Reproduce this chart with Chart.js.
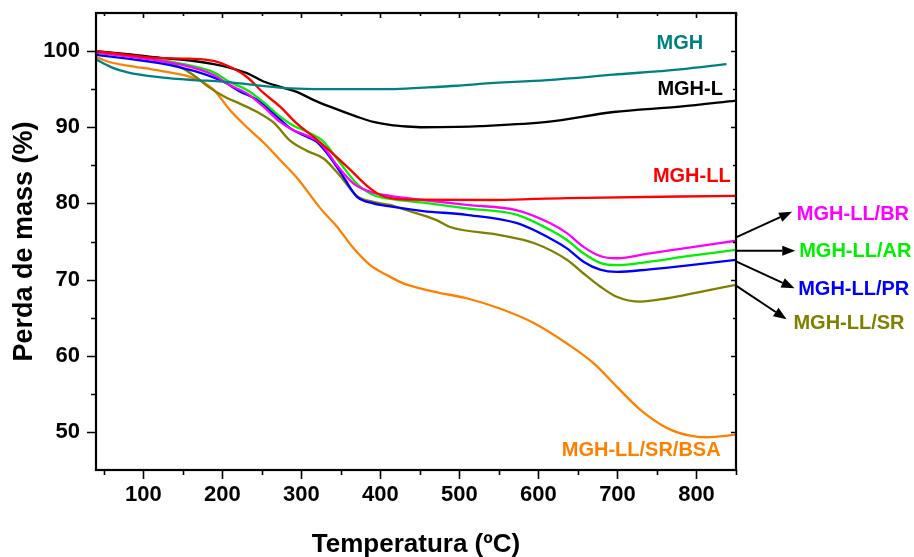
<!DOCTYPE html>
<html>
<head>
<meta charset="utf-8">
<script src="https://cdn.jsdelivr.net/npm/chart.js@4/dist/chart.umd.min.js"></script>
<style>
  html, body { margin: 0; padding: 0; background: #ffffff; }
  #wrap { width: 914px; height: 557px; }
</style>
</head>
<body>
<div id="wrap"><canvas id="c" width="914" height="557"></canvas></div>
<script>
// ---- Data (temperature in ºC, mass in %) ----
const seriesNames = ['MGH', 'MGH-L', 'MGH-LL', 'MGH-LL/BR', 'MGH-LL/AR', 'MGH-LL/PR', 'MGH-LL/SR', 'MGH-LL/SR/BSA'];

const tempMGH = [40, 59, 80, 122, 164, 200, 244, 286, 328, 374, 412, 454, 497, 526, 611, 695, 779, 838];
const massMGH = [98.9, 97.9, 97.2, 96.55, 96.2, 96.0, 95.5, 95.1, 95.0, 95.0, 95.0, 95.2, 95.45, 95.7, 96.2, 96.9, 97.6, 98.3];

const tempMGHL = [40, 80, 122, 164, 189, 210, 231, 252, 273, 294, 315, 336, 370, 391, 412, 433, 454, 497, 526, 611, 695, 779, 850];
const massMGHL = [100.0, 99.6, 99.1, 98.7, 98.3, 97.8, 97.1, 96.0, 95.3, 94.65, 93.6, 92.7, 91.4, 90.7, 90.3, 90.1, 90.0, 90.05, 90.15, 90.7, 92.0, 92.7, 93.5];

const tempMGHLL = [40, 80, 117, 159, 189, 210, 231, 252, 273, 294, 317, 338, 360, 383, 400, 433, 539, 636, 850];
const massMGHLL = [100.0, 99.5, 99.1, 99.0, 98.7, 97.9, 96.6, 94.5, 92.7, 90.5, 88.6, 86.7, 84.6, 82.3, 81.1, 80.5, 80.45, 80.7, 81.0];

const tempBR = [40, 80, 122, 164, 189, 210, 231, 252, 273, 290, 307, 324, 345, 366, 391, 412, 454, 509, 573, 615, 636, 657, 678, 699, 741, 784, 850];
const massBR = [99.8, 99.3, 98.7, 97.8, 96.85, 95.5, 94.45, 92.7, 90.7, 89.6, 88.9, 87.9, 85.0, 82.6, 81.4, 81.0, 80.45, 79.8, 79.1, 77.4, 76.1, 74.3, 73.1, 72.8, 73.45, 74.1, 75.1];

const tempAR = [40, 80, 122, 164, 189, 210, 231, 252, 273, 290, 307, 328, 349, 370, 391, 412, 454, 509, 573, 615, 636, 657, 678, 699, 741, 784, 850];
const massAR = [99.8, 99.3, 98.8, 98.0, 97.2, 95.9, 94.9, 93.3, 91.4, 90.2, 89.4, 88.1, 85.3, 82.6, 81.1, 80.6, 80.1, 79.35, 78.5, 76.5, 75.2, 73.45, 72.2, 71.9, 72.35, 73.0, 73.9];

const tempPR = [40, 80, 122, 164, 201, 222, 244, 265, 286, 307, 319, 336, 353, 370, 391, 412, 454, 509, 573, 615, 636, 657, 678, 699, 741, 784, 850];
const massPR = [99.5, 99.0, 98.4, 97.4, 96.0, 94.7, 93.6, 91.8, 89.85, 88.75, 88.1, 86.1, 83.5, 80.9, 80.0, 79.6, 79.0, 78.5, 77.4, 75.4, 74.1, 72.35, 71.3, 71.0, 71.35, 71.8, 72.6];

const tempSR = [40, 80, 122, 146, 164, 181, 201, 222, 244, 265, 286, 307, 328, 349, 370, 391, 412, 433, 471, 488, 551, 594, 636, 657, 678, 699, 729, 763, 805, 850];
const massSR = [99.7, 99.4, 98.7, 97.9, 96.8, 95.4, 94.1, 93.1, 92.0, 90.6, 88.2, 86.9, 85.9, 83.6, 81.0, 80.2, 79.8, 79.1, 77.8, 76.9, 75.85, 74.8, 72.6, 70.8, 69.1, 67.75, 67.1, 67.55, 68.4, 69.3];

const tempBSA = [40, 59, 80, 122, 156, 172, 189, 210, 231, 252, 273, 294, 324, 345, 366, 387, 408, 429, 450, 473, 509, 551, 594, 636, 670, 699, 729, 763, 792, 813, 849];
const massBSA = [99.2, 98.5, 98.1, 97.4, 96.7, 96.1, 94.9, 92.2, 90.0, 88.0, 85.7, 83.4, 79.35, 76.95, 74.1, 71.9, 70.6, 69.5, 68.85, 68.3, 67.55, 66.2, 64.3, 61.6, 59.0, 55.95, 52.9, 50.5, 49.5, 49.3, 49.6];

const xTickValues = [100, 200, 300, 400, 500, 600, 700, 800];
const yTickValues = [50, 60, 70, 80, 90, 100];
const xMinorValues = [50, 150, 250, 350, 450, 550, 650, 750, 850];
const yMinorValues = [55, 65, 75, 85, 95];

// label anchors (data coordinates) and arrows
const labelPos = {
  'MGH': [779, 101.0],
  'MGH-L': [792, 94.9],
  'MGH-LL': [794, 83.5],
  'MGH-LL/BR': [998, 78.6],
  'MGH-LL/AR': [1001, 73.7],
  'MGH-LL/PR': [999, 68.7],
  'MGH-LL/SR': [993, 64.2],
  'MGH-LL/SR/BSA': [730, 47.6]
};
const arrows = [
  [[850, 75.55], [921, 78.9]],
  [[850, 73.8], [925, 73.8]],
  [[850, 72.4], [924, 68.85]],
  [[850, 69.2], [914, 64.8]]
];

const colors = {
  'MGH': '#008080',
  'MGH-L': '#000000',
  'MGH-LL': '#ff0000',
  'MGH-LL/BR': '#ff00ff',
  'MGH-LL/AR': '#00f000',
  'MGH-LL/PR': '#0000ff',
  'MGH-LL/SR': '#808000',
  'MGH-LL/SR/BSA': '#ff8000'
};

const toPts = (t, m) => t.map((v, i) => ({ x: v, y: m[i] }));
const seriesData = {
  'MGH': toPts(tempMGH, massMGH),
  'MGH-L': toPts(tempMGHL, massMGHL),
  'MGH-LL': toPts(tempMGHLL, massMGHLL),
  'MGH-LL/BR': toPts(tempBR, massBR),
  'MGH-LL/AR': toPts(tempAR, massAR),
  'MGH-LL/PR': toPts(tempPR, massPR),
  'MGH-LL/SR': toPts(tempSR, massSR),
  'MGH-LL/SR/BSA': toPts(tempBSA, massBSA)
};

const drawOrder = ['MGH', 'MGH-LL', 'MGH-L', 'MGH-LL/BR', 'MGH-LL/AR', 'MGH-LL/PR', 'MGH-LL/SR', 'MGH-LL/SR/BSA'];
const datasets = drawOrder.map(n => ({
  label: n,
  data: seriesData[n],
  borderColor: colors[n],
  backgroundColor: colors[n],
  borderWidth: 2.3,
  pointRadius: 0,
  fill: false,
  cubicInterpolationMode: 'monotone',
  tension: 0.4
}));

const FONT = "'Liberation Sans', Arial, sans-serif";

const decor = {
  id: 'decor',
  afterDraw(chart) {
    const { ctx, chartArea: a } = chart;
    const xs = chart.scales.x, ys = chart.scales.y;
    ctx.save();
    ctx.strokeStyle = '#000';
    ctx.lineCap = 'butt';
    // ticks
    ctx.lineWidth = 1.6;
    ctx.beginPath();
    xTickValues.forEach(v => {
      const px = Math.round(xs.getPixelForValue(v)) + 0.5;
      ctx.moveTo(px, a.bottom); ctx.lineTo(px, a.bottom + 9);
      ctx.moveTo(px, a.top); ctx.lineTo(px, a.top + 5);
    });
    xMinorValues.forEach(v => {
      const px = Math.round(xs.getPixelForValue(v)) + 0.5;
      ctx.moveTo(px, a.bottom); ctx.lineTo(px, a.bottom + 5);
      ctx.moveTo(px, a.top); ctx.lineTo(px, a.top + 3);
    });
    yTickValues.forEach(v => {
      const py = Math.round(ys.getPixelForValue(v)) + 0.5;
      ctx.moveTo(a.left, py); ctx.lineTo(a.left - 9, py);
      ctx.moveTo(a.right, py); ctx.lineTo(a.right - 5, py);
    });
    yMinorValues.forEach(v => {
      const py = Math.round(ys.getPixelForValue(v)) + 0.5;
      ctx.moveTo(a.left, py); ctx.lineTo(a.left - 5, py);
      ctx.moveTo(a.right, py); ctx.lineTo(a.right - 3, py);
    });
    ctx.stroke();
    // frame
    ctx.lineWidth = 2.2;
    ctx.strokeRect(a.left, a.top, a.right - a.left, a.bottom - a.top);

    // series labels
    ctx.font = 'bold 20px ' + FONT;
    ctx.textAlign = 'center';
    ctx.textBaseline = 'middle';
    Object.keys(labelPos).forEach(n => {
      const [tx, ty] = labelPos[n];
      ctx.fillStyle = colors[n];
      ctx.fillText(n, xs.getPixelForValue(tx), ys.getPixelForValue(ty));
    });

    // arrows
    ctx.strokeStyle = '#000';
    ctx.fillStyle = '#000';
    ctx.lineWidth = 2;
    arrows.forEach(([s, e]) => {
      const x1 = xs.getPixelForValue(s[0]), y1 = ys.getPixelForValue(s[1]);
      const x2 = xs.getPixelForValue(e[0]), y2 = ys.getPixelForValue(e[1]);
      const ang = Math.atan2(y2 - y1, x2 - x1);
      const L = 13, W = 5;
      const bx = x2 - L * Math.cos(ang), by = y2 - L * Math.sin(ang);
      ctx.beginPath();
      ctx.moveTo(x1, y1); ctx.lineTo(bx, by);
      ctx.stroke();
      ctx.beginPath();
      ctx.moveTo(x2, y2);
      ctx.lineTo(bx + W * Math.sin(ang), by - W * Math.cos(ang));
      ctx.lineTo(bx - W * Math.sin(ang), by + W * Math.cos(ang));
      ctx.closePath();
      ctx.fill();
    });
    ctx.restore();
  }
};

new Chart(document.getElementById('c'), {
  type: 'line',
  data: { datasets },
  options: {
    responsive: false,
    animation: false,
    devicePixelRatio: 1,
    layout: { padding: { top: 13, right: 178, left: 0, bottom: 0 } },
    plugins: { legend: { display: false }, tooltip: { enabled: false } },
    scales: {
      x: {
        type: 'linear',
        min: 40, max: 850,
        afterBuildTicks: s => { s.ticks = xTickValues.map(v => ({ value: v })); },
        afterFit: s => { s.height = 87; s.paddingLeft = 0; s.paddingRight = 0; },
        grid: { display: false, drawTicks: false },
        border: { display: false },
        ticks: { color: '#000', font: { family: FONT, size: 22, weight: 'bold' }, padding: 12, maxRotation: 0, autoSkip: false },
        title: { display: true, text: 'Temperatura (ºC)', color: '#000', font: { family: FONT, size: 26, weight: 'bold' }, padding: { top: 0, bottom: -3 } }
      },
      y: {
        type: 'linear',
        min: 45, max: 105,
        afterBuildTicks: s => { s.ticks = yTickValues.map(v => ({ value: v })); },
        afterFit: s => { s.width = 96; s.paddingTop = 0; s.paddingBottom = 0; },
        grid: { display: false, drawTicks: false },
        border: { display: false },
        ticks: { color: '#000', font: { family: FONT, size: 22, weight: 'bold' }, padding: 16, autoSkip: false },
        title: { display: true, text: 'Perda de mass (%)', color: '#000', font: { family: FONT, size: 27, weight: 'bold' }, padding: { top: 8, bottom: 0 } }
      }
    }
  },
  plugins: [decor]
});
</script>
</body>
</html>
